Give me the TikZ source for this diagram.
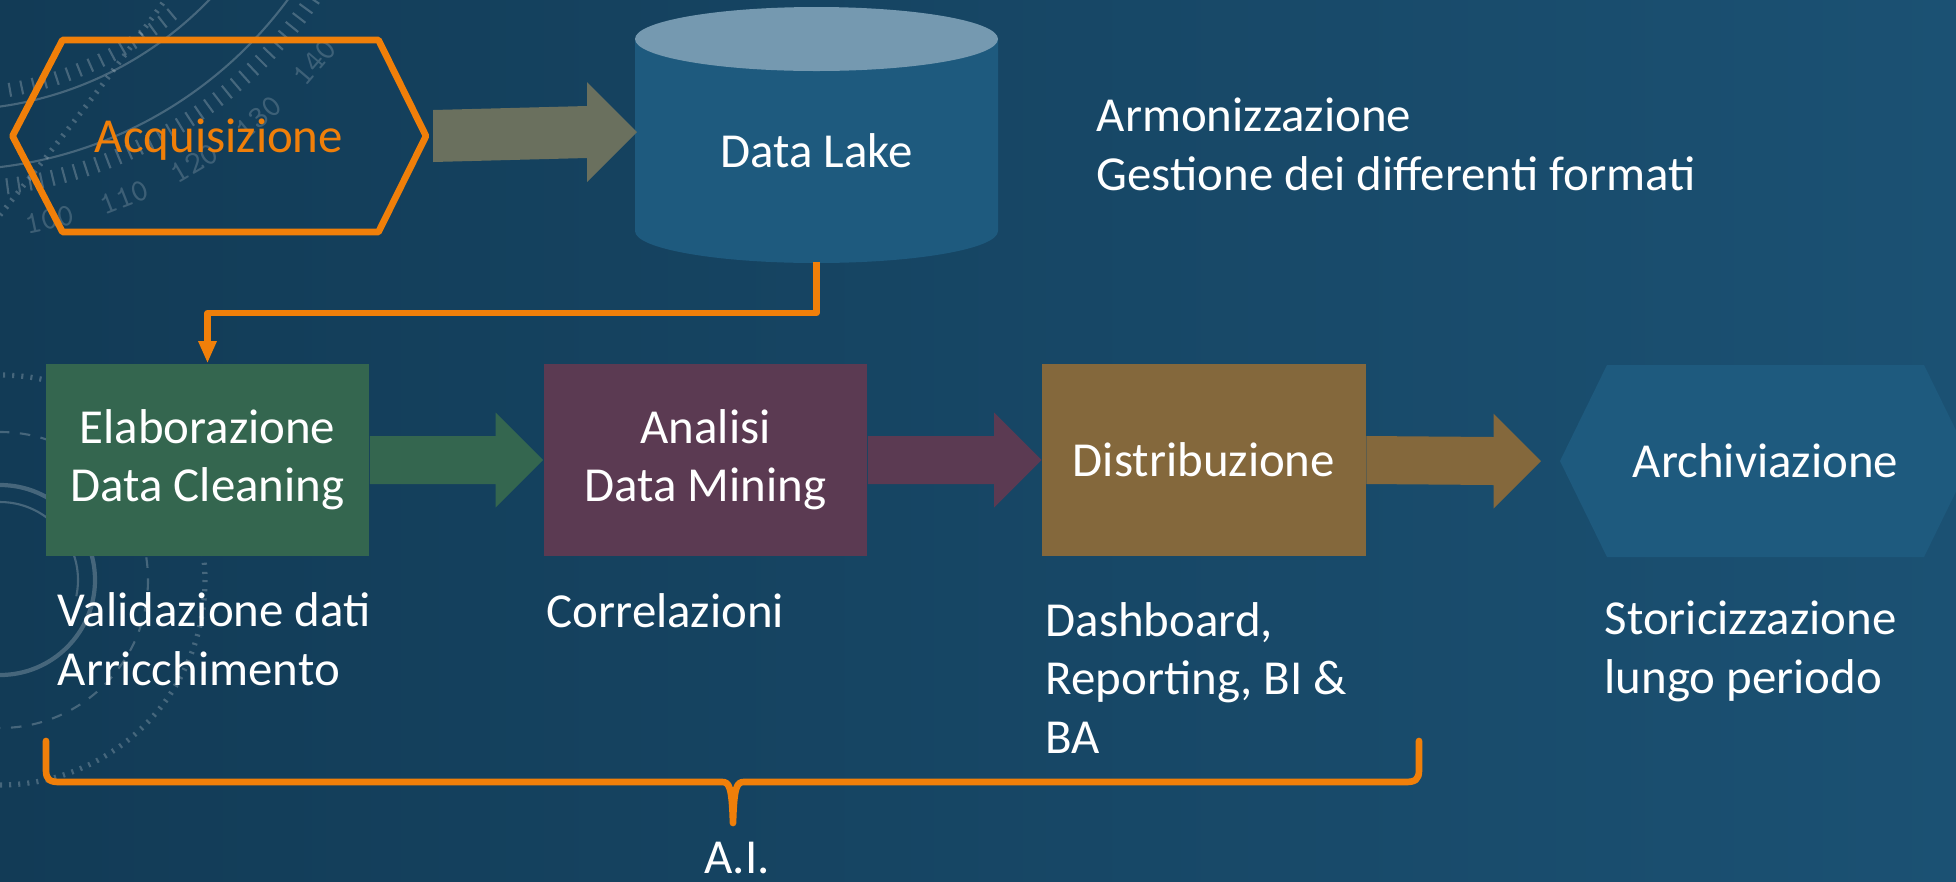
\documentclass[tikz,border=0pt]{standalone}
\usepackage{fontspec}
\setmainfont{Carlito}
\usetikzlibrary{calc,positioning,arrows.meta}

\definecolor{bgleft}{HTML}{123B56}
\definecolor{bgright}{HTML}{1B5173}
\definecolor{accent}{HTML}{F07F09}
\definecolor{stone}{HTML}{6A705E}
\definecolor{lakeblue}{HTML}{1E5A7E}
\definecolor{laketop}{HTML}{7599B0}
\definecolor{cleangreen}{HTML}{34664F}
\definecolor{minepurple}{HTML}{5B3A52}
\definecolor{distbrown}{HTML}{84683C}

% block arrow: start, tip, half shaft, half head, colour
\newcommand{\flowarrow}[5]{%
  \fill[#5] ($(#1)+(0,#3)$) -- ($(#2)+(-#4,#3)$) -- ($(#2)+(-#4,#4)$) -- (#2)
    -- ($(#2)+(-#4,-#4)$) -- ($(#2)+(-#4,-#3)$) -- ($(#1)+(0,-#3)$) -- cycle;}

\begin{document}
\begin{tikzpicture}[x=0.01cm, y=-0.01cm,
    txt/.style={text=white, font=\fontsize{13.9}{16.5}\selectfont, inner sep=0pt},
    stage/.style={txt, minimum width=3.23cm, minimum height=1.92cm, align=center},
    deco/.style={white, opacity=0.22, line width=0.6pt},
    dialnum/.style={white, opacity=0.18, font=\ttfamily\fontsize{9}{9}\selectfont, inner sep=0pt},
    link/.style={accent, line width=1.8pt, line join=round, -{Triangle[length=0.22cm, width=0.17cm]}},
    brace/.style={accent, line width=1.9pt, line cap=round, line join=round}
]

% background
\shade[left color=bgleft, right color=bgright] (0,0) rectangle (1956,881);
\useasboundingbox (0,0) rectangle (1956,881);

% theme decorations
\begin{scope}
  \clip (0,0) rectangle (1956,881);
  \coordinate (dial) at (-50,-250);
  \draw[deco] (dial) circle[radius=420];
  \draw[deco] (dial) circle[radius=360];
  \foreach \a in {30,31.5,...,86}
    \draw[deco] ($(dial)+(\a:432)$) -- ($(dial)+(\a:448)$);
  \foreach \a in {50,52,...,80}
    \draw[deco] ($(dial)+(\a:338)$) -- ($(dial)+(\a:352)$);
  \foreach \a/\n in {78/100, 68.7/110, 59.4/120, 50/130, 40.6/140}
    \node[dialnum, rotate=90-\a] at ($(dial)+(\a:480)$) {\n};
  \draw[deco, dotted, line width=1.5pt] (0,215) .. controls (60,140) and (115,70) .. (165,0);
  \coordinate (ring) at (0,580);
  \draw[deco, line width=1.2pt] (ring) circle[radius=95];
  \draw[deco] ($(ring)+(-90:78)$) arc[start angle=-90, end angle=12, radius=78];
  \draw[deco, dashed] (ring) circle[radius=148];
  \draw[deco, dotted, line width=1.5pt] (ring) circle[radius=205];
\end{scope}

% acquisition
\draw[accent, line width=1.9pt, line join=round] (12.5,136) -- (62.5,40) -- (378.5,40)
  -- (426,136) -- (378.5,232) -- (62.5,232) -- cycle;
\node[txt, text=accent, anchor=base] (acq) at (219,152) {Acquisizione};
\coordinate (acqtip) at (433,136);

% data lake
\fill[lakeblue] (635,39) -- (635,231) arc[start angle=180, end angle=0, x radius=181.5, y radius=32]
  -- (998,39) -- cycle;
\fill[laketop] (816.5,39) ellipse[x radius=181.5, y radius=32];
\node[txt, anchor=base] (lake) at (816.5,167) {Data Lake};
\coordinate (laketip) at (637,132);
\coordinate (lakefoot) at (816.5,262);

\flowarrow{acqtip}{laketip}{26}{50}{stone}

\node[txt, anchor=base west, align=left] (harm) at (1096,190) {Armonizzazione\\Gestione dei differenti formati};

% stages
\node[stage, fill=cleangreen] (clean) at (207.5,460) {Elaborazione\\Data Cleaning};
\node[stage, fill=minepurple] (mine) at (705.5,460) {Analisi\\Data Mining};
\node[stage, fill=distbrown] (dist) at (1204,460) {Distribuzione};

\fill[lakeblue] (1560,461) -- (1607,365) -- (1924,365) -- (1971,461) -- (1924,557) -- (1607,557) -- cycle;
\node[txt] (arch) at (1765.5,461) {Archiviazione};
\coordinate (archtip) at (1541,461);

\flowarrow{clean.east}{mine.west}{24}{47.5}{cleangreen}
\flowarrow{mine.east}{dist.west}{24}{47.5}{minepurple}
\flowarrow{dist.east}{archtip}{24}{47.5}{distbrown}

\draw[link] (lakefoot) -- ++(0,51) -| (clean.north);

% notes under the stages
\node[txt, anchor=base west, align=left] (valid) at (57,685) {Validazione dati\\Arricchimento};
\node[txt, anchor=base west] (correl) at (546,627) {Correlazioni};
\node[txt, anchor=base west, align=left] (dash) at (1045,753) {Dashboard,\\Reporting, BI \&\\BA};
\node[txt, anchor=base west, align=left] (stor) at (1604,693) {Storicizzazione\\lungo periodo};

% brace
\draw[brace] (46,741) -- (46,770) .. controls (46,780) and (50,782) .. (60,782) -- (722,782)
  .. controls (729,782) and (732,786) .. (733,823) .. controls (734,786) and (737,782) .. (744,782)
  -- (1405,782) .. controls (1415,782) and (1419,780) .. (1419,770) -- (1419,741);
\node[txt, anchor=base] (ai) at (737,873) {A.I.};

\end{tikzpicture}
\end{document}
